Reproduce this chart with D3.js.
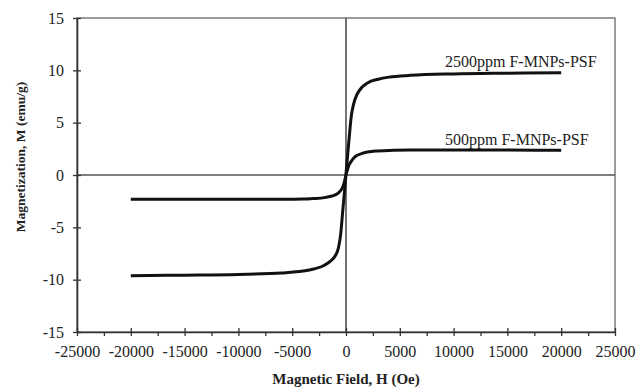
<!DOCTYPE html>
<html>
<head>
<meta charset="utf-8">
<script src="https://cdn.jsdelivr.net/npm/d3@7"></script>
<style>
  body { margin: 0; background: #fff; }
  text { font-family: "Liberation Serif", "Times New Roman", serif; fill: #222; }
</style>
</head>
<body>
<div id="chart"></div>
<script>
// applied field (Oe)
var fieldH = [-20000, -15000, -10000, -6000, -4000, -3000, -2000, -1500, -1000, -700, -500, -300, -150, 0,
  150, 300, 500, 700, 1000, 1500, 2000, 3000, 4000, 6000, 10000, 15000, 20000];
// magnetization (emu/g)
var m2500 = [-9.62, -9.57, -9.5, -9.36, -9.18, -8.98, -8.62, -8.28, -7.72, -6.95, -5.7, -3.4, -1.7, 0.1,
  1.9, 3.6, 5.7, 6.75, 7.65, 8.4, 8.8, 9.15, 9.35, 9.52, 9.66, 9.73, 9.78];
var m500 = [-2.32, -2.32, -2.32, -2.31, -2.3, -2.25, -2.16, -2.06, -1.9, -1.7, -1.5, -1.15, -0.65, 0.0,
  0.55, 1.0, 1.32, 1.6, 1.86, 2.06, 2.2, 2.3, 2.35, 2.38, 2.39, 2.38, 2.36];
var seriesNames = ["2500ppm F-MNPs-PSF", "500ppm F-MNPs-PSF"];
var xTicks = [-25000, -20000, -15000, -10000, -5000, 0, 5000, 10000, 15000, 20000, 25000];
var yTicks = [-15, -10, -5, 0, 5, 10, 15];

var width = 637, height = 388;
var margin = {top: 18, right: 22, bottom: 56, left: 77};
var w = width - margin.left - margin.right,
    h = height - margin.top - margin.bottom;

var svg = d3.select("#chart").append("svg")
  .attr("width", width)
  .attr("height", height);

var g = svg.append("g")
  .attr("transform", "translate(" + margin.left + "," + margin.top + ")");

var x = d3.scaleLinear().domain([-25000, 25000]).range([0, w]);
var y = d3.scaleLinear().domain([-15, 15]).range([h, 0]);

// plain hyphen minus like the original
var fmt = function(d) { return String(d); };

// frame (top / right)
g.append("rect")
  .attr("x", 0).attr("y", 0)
  .attr("width", w).attr("height", h)
  .attr("fill", "none")
  .attr("stroke", "#666")
  .attr("stroke-width", 1.3);

// zero lines
g.append("line")
  .attr("x1", 0).attr("x2", w)
  .attr("y1", y(0)).attr("y2", y(0))
  .attr("stroke", "#555").attr("stroke-width", 1.3);
g.append("line")
  .attr("x1", x(0)).attr("x2", x(0))
  .attr("y1", 0).attr("y2", h)
  .attr("stroke", "#444").attr("stroke-width", 1.5);

// x axis
var xAxis = g.append("g")
  .attr("transform", "translate(0," + h + ")")
  .call(d3.axisBottom(x).tickValues(xTicks).tickSizeInner(4).tickSizeOuter(0).tickPadding(10)
    .tickFormat(fmt));
xAxis.selectAll(".tick line").attr("y1", -4);
// minor ticks
g.append("g")
  .attr("transform", "translate(0," + h + ")")
  .call(d3.axisBottom(x).tickValues(d3.range(-22500, 25000, 5000)).tickSizeInner(4).tickSizeOuter(0).tickFormat(""))
  .select(".domain").remove();

// y axis
var yAxis = g.append("g")
  .call(d3.axisLeft(y).tickValues(yTicks).tickSizeInner(4).tickSizeOuter(0).tickPadding(9)
    .tickFormat(fmt));
yAxis.selectAll(".tick line").attr("x1", 4);

g.selectAll(".domain").attr("stroke", "#333").attr("stroke-width", 1.6);
g.selectAll(".tick line").attr("stroke", "#333").attr("stroke-width", 1.3);
g.selectAll(".tick text")
  .style("font-family", "'Liberation Serif', serif")
  .style("font-size", "16px")
  .style("fill", "#222");

// curves
var line = d3.line()
  .x(function(d) { return x(d[0]); })
  .y(function(d) { return y(d[1]); })
  .curve(d3.curveMonotoneX);

[m2500, m500].forEach(function(vals) {
  g.append("path")
    .datum(fieldH.map(function(hv, i) { return [hv, vals[i]]; }))
    .attr("fill", "none")
    .attr("stroke", "#111")
    .attr("stroke-width", 3)
    .attr("stroke-linejoin", "round")
    .attr("d", line);
});

// series labels
var labelPos = [[9200, 10.3], [9200, 2.87]];
seriesNames.forEach(function(name, i) {
  g.append("text")
    .attr("x", x(labelPos[i][0]))
    .attr("y", y(labelPos[i][1]))
    .style("font-size", "16px")
    .text(name);
});

// axis titles
svg.append("text")
  .attr("x", margin.left + w / 2)
  .attr("y", 384)
  .attr("text-anchor", "middle")
  .style("font-size", "15px")
  .style("font-weight", "bold")
  .text("Magnetic Field, H (Oe)");

svg.append("text")
  .attr("transform", "translate(25,157) rotate(-90)")
  .attr("text-anchor", "middle")
  .style("font-size", "13.5px")
  .style("font-weight", "bold")
  .text("Magnetization, M (emu/g)");
</script>
</body>
</html>
